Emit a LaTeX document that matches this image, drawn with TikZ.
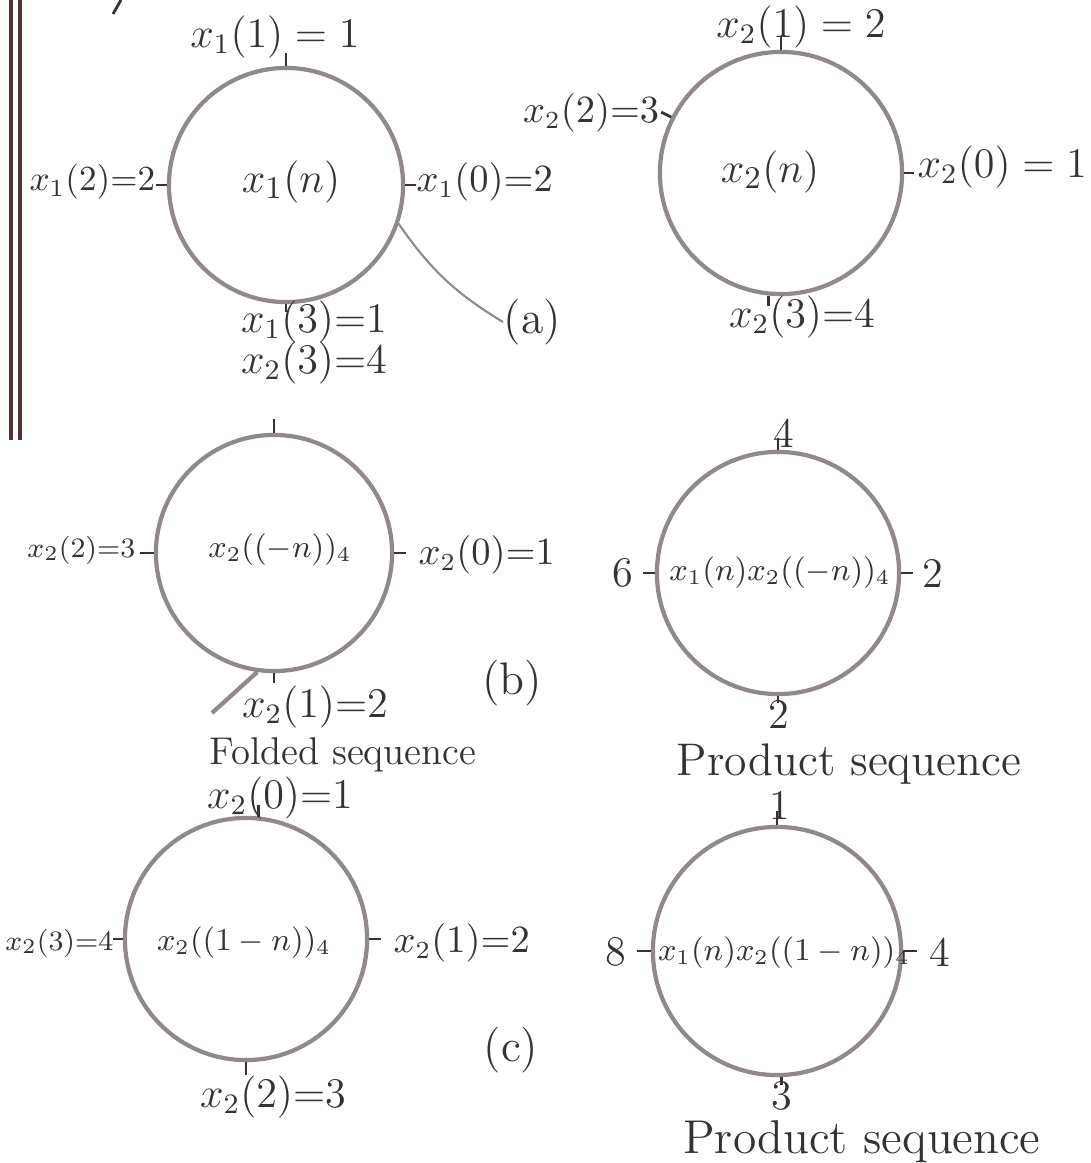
\documentclass[tikz,border=0pt]{standalone}
\usepackage{tikz}
\usepackage{amsmath}
\usepackage{amssymb}
\usepackage{xcolor}

\definecolor{ringgray}{RGB}{145,136,136}
\definecolor{ink}{RGB}{52,50,54}
\definecolor{barbrown}{RGB}{78,52,52}

\begin{document}
\begin{tikzpicture}[
  x=0.01cm, y=-0.01cm,
  ring/.style={circle,draw=ringgray,line width=1.2pt,inner sep=0pt},  lbl/.style={text=ink,inner sep=0pt,font=\fontsize{12}{14}\selectfont},  sidelbl/.style={text=ink,inner sep=0pt,font=\fontsize{10.5}{12}\selectfont},  tinylbl/.style={text=ink,inner sep=0pt,font=\fontsize{8.5}{10}\selectfont},  mid/.style={text=ink,inner sep=0pt,font=\fontsize{12.5}{14}\selectfont},  foldmid/.style={text=ink,inner sep=0pt,font=\fontsize{9}{11}\selectfont},  prodmid/.style={text=ink,inner sep=0pt,font=\fontsize{8.8}{10}\selectfont},  captext/.style={text=ink,inner sep=0pt,font=\fontsize{13}{15}\selectfont},  tickmark/.style={draw=ink,line width=0.8pt}
]
  \useasboundingbox (0,0) rectangle (1091,1163);
  \draw[barbrown,line width=1.1pt] (11,0) -- (11,440);
  \draw[barbrown,line width=1.1pt] (20,0) -- (20,440);
  \coordinate (m0) at (113,14);
  \coordinate (m1) at (121,0);
  \draw[ink,line width=0.8pt] (m0) -- (m1);

  % (a) x_1(n)
  \node[ring,minimum size=2.34cm] (c1) at (286,185) {};
  \node[mid] (c1n) at (291,182) {$x_1(n)$};
  \node[lbl] (c1t) at (275,37) {$x_1(1) = 1$};
  \node[sidelbl,font=\fontsize{9.6}{11}\selectfont,anchor=east] (c1l) at (156,182) {$x_1(2){=}2$};
  \node[sidelbl,anchor=west] (c1r) at (416,182) {$x_1(0){=}2$};
  \node[lbl] (c1b) at (314,322) {$x_1(3){=}1$};
  \node[lbl] (c1c) at (314,363) {$x_2(3){=}4$};
  \node[captext,anchor=west] (pa) at (503,322) {(a)};
  \draw[tickmark] (c1.north) -- ++(0,-13);
  \draw[tickmark] (c1.west) -- ++(-11,0);
  \draw[tickmark] (c1.east) -- ++(11,0);
  \draw[tickmark] (c1.south) -- ++(0,8);
  \draw[ringgray,line width=0.6pt] (c1.-19) to[bend right=12] (pa.west);

  \node[ring,minimum size=2.42cm] (c2) at (781,173) {};
  \node[mid] (c2n) at (770,172) {$x_2(n)$};
  \node[lbl] (c2t) at (801,27) {$x_2(1)=2$};
  \node[sidelbl,anchor=east] (c2l) at (660,113) {$x_2(2){=}3$};
  \node[lbl,anchor=west] (c2r) at (917,167) {$x_2(0)= 1$};
  \node[lbl] (c2b) at (802,317) {$x_2(3){=}4$};
  \draw[tickmark] (c2.north) -- ++(0,-14);
  \draw[tickmark] (c2.153) -- ++(-10,-5);
  \draw[tickmark] (c2.east) -- ++(10,0);
  \draw[tickmark] (c2.-96) -- ++(0,10);

  % (b) folded sequence
  \node[ring,minimum size=2.36cm] (c3) at (274,553) {};
  \node[foldmid] (c3n) at (280,550) {$x_2((-n))_4$};
  \node[tinylbl,anchor=east] (c3l) at (136,550) {$x_2(2){=}3$};
  \node[sidelbl,anchor=west] (c3r) at (418,555) {$x_2(0){=}1$};
  \node[lbl] (c3b) at (315,707) {$x_2(1){=}2$};
  \node[captext] (pb) at (512,683) {(b)};
  \node[captext,font=\fontsize{11}{13}\selectfont] (fold) at (343,755) {Folded sequence};
  \coordinate (s3) at (212,713);
  \draw[tickmark] (c3.north) -- ++(0,-14);
  \draw[tickmark] (c3.west) -- ++(-14,0);
  \draw[tickmark] (c3.east) -- ++(12,0);
  \draw[tickmark] (c3.south) -- ++(0,10);
  \draw[ringgray,line width=1.2pt] (c3.-98) -- (s3);

  \node[ring,minimum size=2.42cm] (c4) at (778,573) {};
  \node[prodmid] (c4n) at (780,573) {$x_1(n)x_2((-n))_4$};
  \node[lbl] (c4t) at (784,433) {4};
  \node[lbl] (c4l) at (623,573) {6};
  \node[lbl] (c4r) at (933,573) {2};
  \node[lbl] (c4b) at (779,714) {2};
  \node[captext] (prod1) at (849,764) {Product sequence};
  \draw[tickmark] (c4.north) -- ++(0,-12);
  \draw[tickmark] (c4.west) -- ++(-12,0);
  \draw[tickmark] (c4.east) -- ++(12,0);
  \draw[tickmark] (c4.south) -- ++(0,7);

  % (c)
  \node[ring,minimum size=2.42cm] (c5) at (246,939) {};
  \node[foldmid] (c5n) at (244,943) {$x_2((1-n))_4$};
  \node[lbl] (c5t) at (280,798) {$x_2(0){=}1$};
  \node[tinylbl,anchor=east] (c5l) at (114,943) {$x_2(3){=}4$};
  \node[sidelbl,anchor=west] (c5r) at (393,943) {$x_2(1){=}2$};
  \node[lbl] (c5b) at (273,1097) {$x_2(2){=}3$};
  \node[captext] (pc) at (511,1050) {(c)};
  \draw[tickmark] (c5.84) -- ++(0,-12);
  \draw[tickmark] (c5.west) -- ++(-10,0);
  \draw[tickmark] (c5.east) -- ++(12,0);
  \draw[tickmark] (c5.south) -- ++(0,13);

  \node[ring,minimum size=2.48cm] (c6) at (777,951) {};
  \node[prodmid] (c6n) at (784,953) {$x_1(n)x_2((1-n))_4$};
  \node[lbl] (c6t) at (780,805) {1};
  \node[lbl] (c6l) at (616,952) {8};
  \node[lbl] (c6r) at (940,952) {4};
  \node[lbl] (c6b) at (782,1096) {3};
  \node[captext,font=\fontsize{13.5}{15}\selectfont] (prod2) at (862,1142) {Product sequence};
  \draw[tickmark] (c6.north) -- ++(0,-14);
  \draw[tickmark] (c6.west) -- ++(-14,0);
  \draw[tickmark] (c6.east) -- ++(14,0);
  \draw[tickmark] (c6.-88) -- ++(0,8);
\end{tikzpicture}
\end{document}
